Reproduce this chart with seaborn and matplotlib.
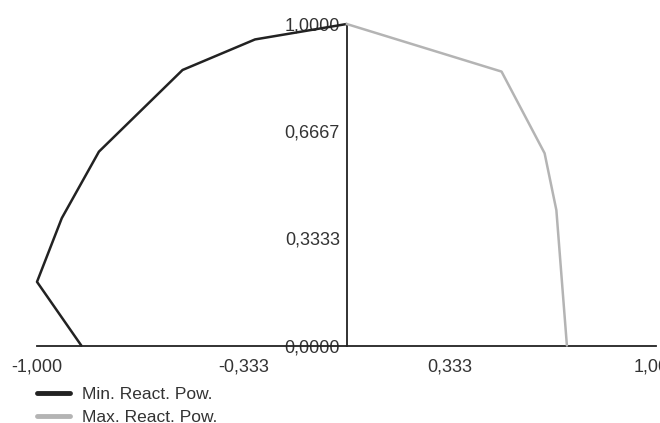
import matplotlib
matplotlib.use("Agg")
import matplotlib.pyplot as plt
import seaborn as sns
import pandas as pd

# Data
min_p = [-0.857, -1.000, -0.920, -0.800, -0.530, -0.296, 0.000]
min_q = [0.000, 0.198, 0.396, 0.603, 0.857, 0.952, 1.000]
max_p = [0.000, 0.500, 0.639, 0.677, 0.711]
max_q = [1.000, 0.852, 0.598, 0.421, 0.000]
x_ticks = [-1.0, -0.333, 0.333, 1.0]
x_labels = ["-1,000", "-0,333", "0,333", "1,000"]
y_ticks = [0.0, 0.3333, 0.6667, 1.0]
y_labels = ["0,0000", "0,3333", "0,6667", "1,0000"]
series = ["Min. React. Pow.", "Max. React. Pow."]

df = pd.concat([
    pd.DataFrame({"P": min_p, "Q": min_q, "s": series[0], "o": range(len(min_p))}),
    pd.DataFrame({"P": max_p, "Q": max_q, "s": series[1], "o": range(len(max_p))}),
])

sns.set_style("white")
plt.rcParams["font.family"] = ["Liberation Sans", "DejaVu Sans"]

fig = plt.figure(figsize=(6.6, 4.23), dpi=100)
ax = fig.add_axes([37/660, 77.5/423, 619.4/660, 321.5/423])

sns.lineplot(data=df, x="P", y="Q", hue="s", sort=False, estimator=None,
             palette={series[0]: "#222222", series[1]: "#b4b4b4"},
             linewidth=1.8, ax=ax, legend=False)
for ln in ax.lines:
    ln.set_clip_on(False)
    ln.set_zorder(3)

ax.set_xlim(-1, 1)
ax.set_ylim(0, 1)
ax.spines["left"].set_position(("data", 0))
ax.spines["bottom"].set_position(("data", 0))
ax.spines["top"].set_visible(False)
ax.spines["right"].set_visible(False)
for sp in ("left", "bottom"):
    ax.spines[sp].set_color("#222222")
    ax.spines[sp].set_linewidth(1.3)
    ax.spines[sp].set_zorder(2)

ax.set_xticks(x_ticks)
ax.set_xticklabels(x_labels)
ax.set_yticks(y_ticks)
ax.set_yticklabels(y_labels)
ax.tick_params(axis="x", length=0, pad=9, labelsize=13, labelcolor="#333333")
ax.tick_params(axis="y", length=0, pad=5, labelsize=13, labelcolor="#333333")
ax.set_xlabel("")
ax.set_ylabel("")
ax.grid(False)

from matplotlib.lines import Line2D
handles = [Line2D([], [], color="#222222", lw=3.5),
           Line2D([], [], color="#b4b4b4", lw=3.5)]
fig.legend(handles, series, loc="upper left",
           bbox_to_anchor=(37/660, 1 - 387/423), frameon=False,
           fontsize=12.5, handlelength=1.9, handletextpad=0.7,
           labelspacing=0.45, borderpad=0, borderaxespad=0,
           labelcolor="#333333")

fig.savefig("out.png", dpi=100)
